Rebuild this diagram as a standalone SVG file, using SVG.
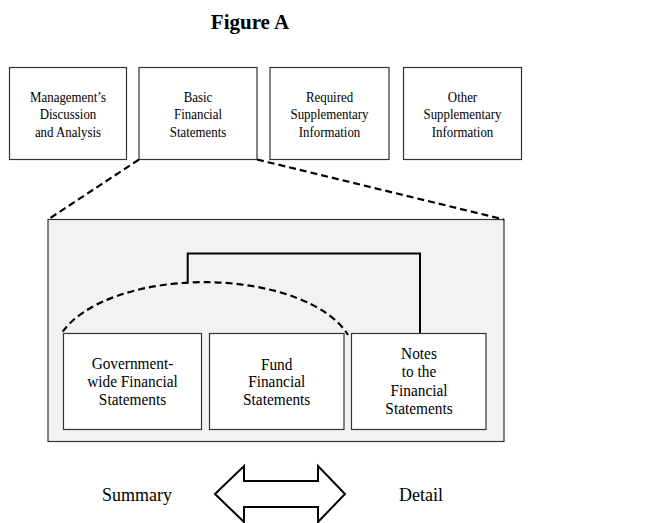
<svg xmlns="http://www.w3.org/2000/svg" width="653" height="523" viewBox="0 0 653 523">
<style>
  text { font-family: "Liberation Serif", "Times New Roman", serif; fill: #000; text-anchor: middle; }
  .title { font-size: 21px; font-weight: bold; }
  .top { font-size: 15px; }
  .inner { font-size: 16.5px; }
  .side { font-size: 18px; }
  .box { fill: #fff; stroke: #333; stroke-width: 1.2; }
  .frame { fill: #f2f2f2; stroke: #333; stroke-width: 1.2; }
  .dash { fill: none; stroke: #000; stroke-width: 2.2; stroke-dasharray: 7 4; }
  .solid { fill: none; stroke: #000; stroke-width: 2; }
</style>
<rect width="653" height="523" fill="#fff"/>
<text class="title" x="250" y="29">Figure A</text>

<g id="mda">
  <rect class="box" x="9.5" y="67.5" width="117" height="92"/>
  <g transform="translate(68 0) scale(0.86 1)">
    <text class="top" x="0" y="102">Management’s</text>
    <text class="top" x="0" y="119.5">Discussion</text>
    <text class="top" x="0" y="137">and Analysis</text>
  </g>
</g>
<g id="bfs">
  <rect class="box" x="139" y="67.5" width="118" height="92"/>
  <g transform="translate(198 0) scale(0.86 1)">
    <text class="top" x="0" y="102">Basic</text>
    <text class="top" x="0" y="119.5">Financial</text>
    <text class="top" x="0" y="137">Statements</text>
  </g>
</g>
<g id="rsi">
  <rect class="box" x="270" y="67.5" width="119" height="92"/>
  <g transform="translate(329.5 0) scale(0.86 1)">
    <text class="top" x="0" y="102">Required</text>
    <text class="top" x="0" y="119.5">Supplementary</text>
    <text class="top" x="0" y="137">Information</text>
  </g>
</g>
<g id="osi">
  <rect class="box" x="403.5" y="67.5" width="118" height="92"/>
  <g transform="translate(462.5 0) scale(0.86 1)">
    <text class="top" x="0" y="102">Other</text>
    <text class="top" x="0" y="119.5">Supplementary</text>
    <text class="top" x="0" y="137">Information</text>
  </g>
</g>

<g id="frame">
  <rect class="frame" x="48" y="219.5" width="456" height="222"/>
</g>

<g id="connectors">
  <line class="dash" x1="139" y1="159.5" x2="48" y2="219.5"/>
  <line class="dash" x1="257" y1="159.5" x2="504" y2="219.5"/>
  <polyline class="solid" points="187.7,282 187.7,253.5 420,253.5 420,333.5"/>
  <path class="dash" d="M 62.7 331.7 A 150 74 0 0 1 348 335"/>
</g>

<g id="gov">
  <rect class="box" x="63.5" y="333.5" width="138" height="96"/>
  <g transform="translate(132.5 0) scale(0.93 1)">
    <text class="inner" x="0" y="369">Government-</text>
    <text class="inner" x="0" y="387">wide Financial</text>
    <text class="inner" x="0" y="405">Statements</text>
  </g>
</g>
<g id="fund">
  <rect class="box" x="209.5" y="333.5" width="134.5" height="96"/>
  <g transform="translate(276.7 0) scale(0.93 1)">
    <text class="inner" x="0" y="370">Fund</text>
    <text class="inner" x="0" y="387">Financial</text>
    <text class="inner" x="0" y="405">Statements</text>
  </g>
</g>
<g id="notes">
  <rect class="box" x="351.5" y="333.5" width="134.5" height="96"/>
  <g transform="translate(419 0) scale(0.93 1)">
    <text class="inner" x="0" y="359">Notes</text>
    <text class="inner" x="0" y="377.5">to the</text>
    <text class="inner" x="0" y="396">Financial</text>
    <text class="inner" x="0" y="414.5">Statements</text>
  </g>
</g>

<g id="scale">
  <text class="side" x="137" y="501">Summary</text>
  <text class="side" x="421" y="501">Detail</text>
  <polygon fill="#fff" stroke="#000" stroke-width="2" stroke-linejoin="miter" points="215,494 244,466 244,481 318,481 318,466 345,494 318,522 318,507 244,507 244,522"/>
</g>
</svg>
